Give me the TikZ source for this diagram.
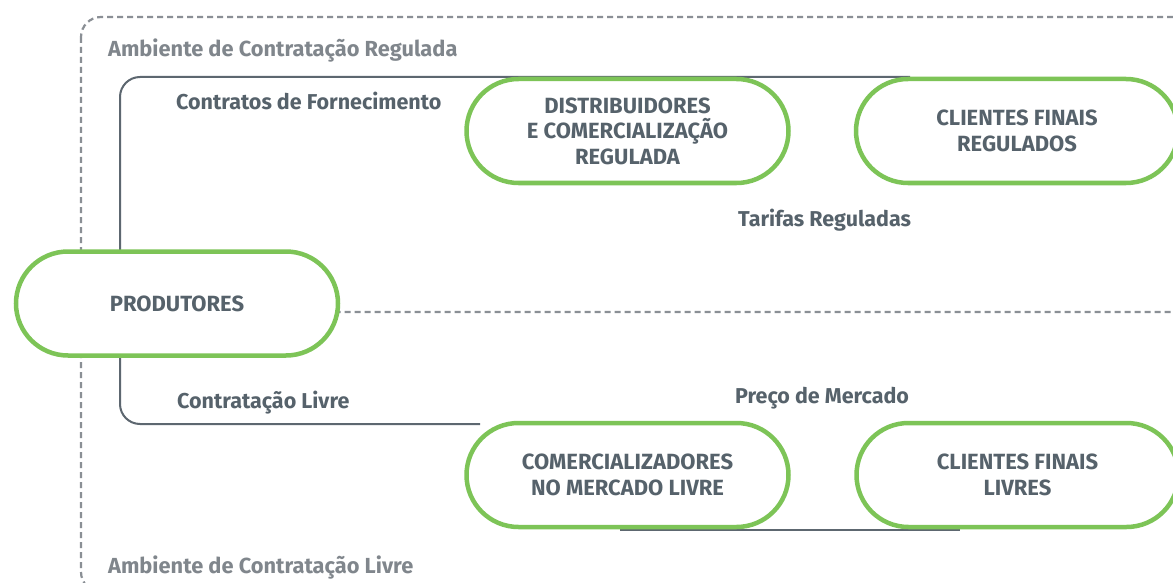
\documentclass[tikz,border=0pt]{standalone}
\usepackage{fontspec}
\setmainfont{Fira Sans}
\definecolor{txtgray}{HTML}{56626B}
\definecolor{lightgray}{HTML}{80868C}
\definecolor{linegray}{HTML}{5D6770}
\definecolor{dashgray}{HTML}{8A8F95}
\definecolor{leaf}{HTML}{7DC457}
\begin{document}
\begin{tikzpicture}[x=1pt,y=-1pt,
  stadium/.style={draw=leaf, line width=4.5pt, fill=white, rounded corners=52pt,
    minimum width=322pt, minimum height=104pt, align=center, text=txtgray,
    font=\fontsize{22}{25.5}\selectfont\bfseries},
  envbox/.style={draw=dashgray, line width=2.2pt, dash pattern=on 6pt off 4pt, rounded corners=20pt},
  flow/.style={draw=linegray, line width=2pt, rounded corners=20pt},
  lbl/.style={text=txtgray, font=\fontsize{21.5}{24}\selectfont\bfseries, anchor=base west, inner sep=0pt},
  envlbl/.style={text=lightgray, font=\fontsize{21.8}{24}\selectfont\bfseries, anchor=base west, inner sep=0pt}]
\useasboundingbox (0,0) rectangle (1173,583);
\clip (0,0) rectangle (1173,583);
\fill[white] (0,0) rectangle (1173,583);
% environment boxes
\coordinate (regTL) at (81,17);
\coordinate (regBR) at (1200,312);
\coordinate (livTL) at (81,312);
\coordinate (livBL) at (81,592);
\coordinate (livBR) at (1200,592);
\draw[envbox] (regTL) rectangle (regBR);
\draw[envbox] (livTL) -- (livBL) -- (livBR);
% flow lines
\coordinate (upStart) at (120,260);
\coordinate (upCorner) at (120,77);
\coordinate (upEnd) at (910,77);
\coordinate (loStart) at (120,350);
\coordinate (loCorner) at (120,424);
\coordinate (loEnd) at (480,424);
\coordinate (btStart) at (620,530);
\coordinate (btEnd) at (960,530);
\draw[flow] (upStart) -- (upCorner) -- (upEnd);
\draw[flow] (loStart) -- (loCorner) -- (loEnd);
\draw[flow] (btStart) -- (btEnd);
% nodes
\node[stadium] (prod) at (177,303.5) {PRODUTORES};
\node[stadium] (dist) at (627.5,131) {DISTRIBUIDORES\\E COMERCIALIZAÇÃO\\REGULADA};
\node[stadium] (cfr) at (1017,131) {CLIENTES FINAIS\\REGULADOS};
\node[stadium] (com) at (627.5,475) {COMERCIALIZADORES\\NO MERCADO LIVRE};
\node[stadium] (cfl) at (1017.5,475) {CLIENTES FINAIS\\LIVRES};
% labels
\node[envlbl] (lreg) at (108,57) {Ambiente de Contratação Regulada};
\node[envlbl] (lliv) at (108,573) {Ambiente de Contratação Livre};
\node[lbl] (lcf) at (176,110) {Contratos de Fornecimento};
\node[lbl] (ltr) at (738,226) {Tarifas Reguladas};
\node[lbl] (lcl) at (177,408) {Contratação Livre};
\node[lbl] (lpm) at (735,403) {Preço de Mercado};
\end{tikzpicture}
\end{document}
